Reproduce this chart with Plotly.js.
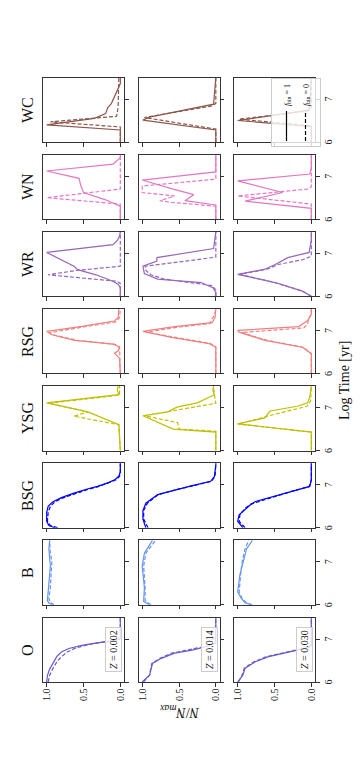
<!DOCTYPE html>
<html>
<head>
<meta charset="utf-8">
<script src="https://cdn.plot.ly/plotly-3.0.1.min.js"></script>
<style>
  html, body { margin: 0; padding: 0; width: 360px; height: 780px; overflow: hidden; background: #fff; }
  #chart { position: absolute; left: 0; top: 0; width: 780px; height: 360px;
           transform-origin: 0 0; transform: translateY(780px) rotate(-90deg); }
</style>
</head>
<body>
<div id="chart"></div>
<script>
// columns = stellar type, rows = metallicity
const types = ['O', 'B', 'BSG', 'YSG', 'RSG', 'WR', 'WN', 'WC'];
const metallicities = ['0.002', '0.014', '0.030'];
const typeColors = ['#6a5acd', '#6495ed', '#0000ff', '#bfbf00', '#f08080', '#9467bd', '#e377c2', '#8c564b'];
const binLabels = ['<i>f</i><sub>bin</sub> = 1', '<i>f</i><sub>bin</sub> = 0'];

// [log time, N/Nmax]. b1 = f_bin 1 (solid), b0 = f_bin 0 (dashed)
const O_002_b1 = [[6.0,1.0],[6.15,0.99],[6.3,0.96],[6.5,0.9],[6.6,0.86],[6.7,0.8],[6.78,0.7],[6.85,0.52],[6.9,0.36],[6.95,0.14],[6.98,0.04],[7.02,0],[7.5,0]];
const O_002_b0 = [[6.0,0.98],[6.15,0.96],[6.3,0.92],[6.5,0.85],[6.6,0.79],[6.7,0.72],[6.78,0.62],[6.85,0.48],[6.9,0.34],[6.95,0.12],[6.98,0.03],[7.02,0],[7.5,0]];
const O_014_b1 = [[6.0,1.0],[6.16,0.9],[6.43,0.86],[6.55,0.74],[6.67,0.56],[6.74,0.32],[6.82,0.14],[6.9,0],[7.5,0]];
const O_014_b0 = [[6.0,0.98],[6.16,0.9],[6.43,0.87],[6.55,0.76],[6.67,0.6],[6.74,0.38],[6.82,0.17],[6.9,0.01],[7.5,0]];
const O_030_b1 = [[6.0,1.0],[6.16,0.93],[6.32,0.9],[6.47,0.76],[6.59,0.58],[6.71,0.25],[6.8,0.04],[6.85,0],[7.5,0]];
const O_030_b0 = [[6.0,0.99],[6.16,0.94],[6.32,0.91],[6.47,0.78],[6.59,0.61],[6.71,0.28],[6.8,0.06],[6.86,0],[7.5,0]];

const B_002_b1 = [[6.0,0.92],[6.04,0.97],[6.1,0.99],[6.3,0.98],[6.6,0.96],[6.9,0.95],[7.1,0.96],[7.3,0.97],[7.5,0.96]];
const B_002_b0 = [[6.0,0.9],[6.05,0.95],[6.15,0.97],[6.4,0.95],[6.7,0.94],[7.0,0.93],[7.2,0.95],[7.5,0.96]];
const B_014_b1 = [[6.0,0.9],[6.08,0.98],[6.4,0.97],[6.9,1.0],[7.2,0.97],[7.5,0.86]];
const B_014_b0 = [[6.0,0.88],[6.1,0.96],[6.4,0.96],[6.9,0.98],[7.2,0.95],[7.5,0.82]];
const B_030_b1 = [[6.0,0.82],[6.05,0.9],[6.15,0.95],[6.3,1.0],[6.7,0.97],[7.0,0.93],[7.3,0.88],[7.5,0.8]];
const B_030_b0 = [[6.0,0.8],[6.05,0.88],[6.15,0.94],[6.3,0.98],[6.7,0.96],[7.0,0.94],[7.3,0.9],[7.5,0.85]];

const BSG_002_b1 = [[6.0,0.89],[6.05,0.97],[6.15,1.0],[6.35,1.0],[6.5,0.98],[6.6,0.92],[6.7,0.8],[6.8,0.64],[6.9,0.45],[6.96,0.31],[7.05,0.16],[7.12,0.07],[7.2,0.02],[7.3,0],[7.5,0]];
const BSG_002_b0 = [[6.0,0.85],[6.05,0.95],[6.15,0.99],[6.35,0.98],[6.5,0.95],[6.6,0.89],[6.7,0.77],[6.8,0.6],[6.9,0.42],[6.96,0.29],[7.05,0.14],[7.12,0.05],[7.2,0.01],[7.3,0],[7.5,0]];
const BSG_014_b1 = [[6.0,0.95],[6.2,0.99],[6.4,0.99],[6.57,0.95],[6.77,0.79],[6.88,0.56],[6.98,0.32],[7.08,0.07],[7.19,0.02],[7.45,0],[7.5,0]];
const BSG_014_b0 = [[6.0,0.92],[6.2,0.98],[6.4,0.98],[6.57,0.93],[6.77,0.78],[6.88,0.55],[6.98,0.3],[7.08,0.06],[7.19,0.01],[7.5,0]];
const BSG_030_b1 = [[6.0,0.93],[6.15,1.0],[6.3,0.98],[6.53,0.83],[6.61,0.76],[6.73,0.49],[6.85,0.25],[6.96,0.02],[7.12,0],[7.5,0]];
const BSG_030_b0 = [[6.0,0.9],[6.15,0.98],[6.3,0.97],[6.45,0.9],[6.55,0.82],[6.73,0.5],[6.85,0.26],[6.96,0.03],[7.1,0],[7.5,0]];

const YSG_002_b1 = [[6.0,0],[6.3,0.01],[6.6,0.02],[6.9,0.44],[7.11,1.0],[7.3,0.02],[7.4,0.04],[7.5,0.03]];
const YSG_002_b0 = [[6.0,0],[6.3,0.01],[6.6,0.02],[6.8,0.63],[6.9,0.44],[7.1,0.97],[7.29,0.01],[7.5,0.01]];
const YSG_014_b1 = [[6.0,0],[6.43,0],[6.5,0.58],[6.81,0.99],[6.9,0.65],[7.01,0.53],[7.11,0.25],[7.3,0.02],[7.4,0.04],[7.5,0.03]];
const YSG_014_b0 = [[6.0,0],[6.45,0],[6.5,0.5],[6.65,0.52],[6.81,0.97],[7.1,0],[7.3,0.02],[7.5,0.03]];
const YSG_030_b1 = [[6.0,0],[6.43,0],[6.62,1.0],[6.76,0.63],[6.92,0.56],[7.03,0.19],[7.11,0.05],[7.25,0.02],[7.5,0]];
const YSG_030_b0 = [[6.0,0],[6.43,0],[6.62,1.0],[6.7,0.8],[6.8,0.6],[7.03,0.06],[7.15,0.01],[7.5,0]];

const RSG_002_b1 = [[6.0,0],[6.35,0.01],[6.42,0.05],[6.47,0.08],[6.52,0.03],[6.62,0.01],[6.68,0.1],[6.77,0.62],[6.9,0.93],[6.98,1.0],[7.1,0.5],[7.22,0.08],[7.3,0.03],[7.5,0.02]];
const RSG_002_b0 = [[6.0,0],[6.6,0.01],[6.68,0.08],[6.77,0.58],[6.9,0.92],[6.95,0.96],[7.08,0.5],[7.2,0.06],[7.3,0.01],[7.5,0]];
const RSG_014_b1 = [[6.0,0],[6.61,0],[6.69,0.09],[6.84,0.6],[6.98,0.99],[7.09,0.56],[7.18,0.05],[7.3,0.01],[7.5,0]];
const RSG_014_b0 = [[6.0,0],[6.62,0],[6.7,0.08],[6.84,0.55],[6.96,0.95],[7.08,0.5],[7.16,0.08],[7.25,0.06],[7.35,0.02],[7.5,0]];
const RSG_030_b1 = [[6.0,0],[6.46,0],[6.61,0.12],[6.77,0.63],[6.96,0.98],[7.0,1.0],[7.09,0.17],[7.23,0.05],[7.38,0],[7.5,0]];
const RSG_030_b0 = [[6.0,0],[6.46,0],[6.61,0.11],[6.77,0.6],[6.95,0.95],[7.06,0.1],[7.15,0.05],[7.25,0.04],[7.38,0],[7.5,0]];

const WR_002_b1 = [[6.0,0],[6.2,0],[6.28,0.03],[6.35,0.1],[6.5,0.33],[6.62,0.58],[6.7,0.63],[6.85,0.8],[7.02,1.0],[7.2,0.1],[7.3,0.04],[7.4,0.01],[7.5,0]];
const WR_002_b0 = [[6.0,0],[6.3,0],[6.35,0.05],[6.5,0.98],[6.6,0.6],[6.7,0],[7.5,0]];
const WR_014_b1 = [[6.0,0],[6.09,0],[6.2,0.04],[6.32,0.2],[6.4,0.79],[6.53,0.97],[6.7,0.99],[6.82,0.8],[6.9,0.8],[7.02,0.32],[7.11,0.03],[7.5,0]];
const WR_014_b0 = [[6.0,0],[6.15,0],[6.25,0.05],[6.4,0.7],[6.5,0.88],[6.6,0.95],[6.7,0.96],[6.91,0],[7.5,0]];
const WR_030_b1 = [[6.0,0],[6.12,0.12],[6.32,0.49],[6.51,1.0],[6.63,0.63],[6.74,0.49],[6.9,0.32],[7.02,0.03],[7.3,0],[7.5,0]];
const WR_030_b0 = [[6.0,0],[6.12,0.12],[6.32,0.5],[6.51,0.97],[6.63,0.6],[6.74,0.45],[6.85,0.12],[6.93,0],[7.5,0]];

const WN_002_b1 = [[6.0,0],[6.3,0],[6.45,0.2],[6.62,0.5],[6.8,0.54],[6.95,0.56],[7.12,1.0],[7.28,0.1],[7.43,0],[7.5,0]];
const WN_002_b0 = [[6.0,0],[6.35,0],[6.5,1.0],[6.7,0],[7.5,0]];
const WN_014_b1 = [[6.0,0],[6.33,0],[6.43,0.42],[6.57,0.3],[6.7,0.58],[6.91,1.0],[7.1,0],[7.5,0]];
const WN_014_b0 = [[6.0,0],[6.3,0],[6.39,0.6],[6.43,0.76],[6.54,0.56],[6.62,1.0],[6.77,1.0],[6.93,0],[7.5,0]];
const WN_030_b1 = [[6.0,0],[6.25,0],[6.42,0.9],[6.62,0.39],[6.89,1.0],[7.05,0.02],[7.2,0],[7.5,0]];
const WN_030_b0 = [[6.0,0],[6.35,0],[6.54,1.0],[6.7,0.05],[6.75,0],[7.5,0]];

const WC_002_b1 = [[6.0,0],[6.28,0],[6.4,1.0],[6.55,0.35],[6.66,0.2],[6.8,0.17],[6.9,0.12],[7.05,0.08],[7.17,0.05],[7.36,0],[7.5,0]];
const WC_002_b0 = [[6.0,0],[6.35,0],[6.47,0.95],[6.6,0.05],[6.8,0.03],[7.5,0.02]];
const WC_014_b1 = [[6.0,0],[6.28,0],[6.51,0.99],[6.58,0.9],[6.88,0.03],[7.5,0]];
const WC_014_b0 = [[6.0,0],[6.3,0],[6.57,0.97],[6.84,0.05],[6.9,0],[7.5,0]];
const WC_030_b1 = [[6.0,0],[6.36,0],[6.5,1.0],[6.74,0.03],[7.5,0]];
const WC_030_b0 = [[6.0,0],[6.38,0],[6.53,0.98],[6.72,0.05],[6.8,0],[7.5,0]];

const curves = {
  O:   [[O_002_b1, O_002_b0], [O_014_b1, O_014_b0], [O_030_b1, O_030_b0]],
  B:   [[B_002_b1, B_002_b0], [B_014_b1, B_014_b0], [B_030_b1, B_030_b0]],
  BSG: [[BSG_002_b1, BSG_002_b0], [BSG_014_b1, BSG_014_b0], [BSG_030_b1, BSG_030_b0]],
  YSG: [[YSG_002_b1, YSG_002_b0], [YSG_014_b1, YSG_014_b0], [YSG_030_b1, YSG_030_b0]],
  RSG: [[RSG_002_b1, RSG_002_b0], [RSG_014_b1, RSG_014_b0], [RSG_030_b1, RSG_030_b0]],
  WR:  [[WR_002_b1, WR_002_b0], [WR_014_b1, WR_014_b0], [WR_030_b1, WR_030_b0]],
  WN:  [[WN_002_b1, WN_002_b0], [WN_014_b1, WN_014_b0], [WN_030_b1, WN_030_b0]],
  WC:  [[WC_002_b1, WC_002_b0], [WC_014_b1, WC_014_b0], [WC_030_b1, WC_030_b0]]
};

// figure is laid out unrotated (780 x 360) and turned by css
const W = 780, H = 360;
const colX0 = 98, colStep = 77.14, colW = 64.5;
const rowY0 = 43, rowStep = 95.5, rowH = 81;
const font = 'Liberation Serif, Times New Roman, serif';

const data = [];
const layout = {
  width: W, height: H,
  margin: { l: 0, r: 0, t: 0, b: 0 },
  paper_bgcolor: '#fff', plot_bgcolor: '#fff',
  font: { family: font, size: 10, color: '#111' },
  showlegend: true,
  legend: {
    x: 702 / W, y: 1 - 271 / H, xanchor: 'right', yanchor: 'top',
    bgcolor: 'rgba(255,255,255,0.8)', bordercolor: '#ccc', borderwidth: 1,
    font: { size: 8 }, itemwidth: 30, tracegroupgap: 0
  },
  annotations: []
};

metallicities.forEach((z, r) => {
  types.forEach((t, c) => {
    const k = r * types.length + c + 1;
    const sfx = k === 1 ? '' : String(k);
    const x0 = colX0 + c * colStep, y0 = rowY0 + r * rowStep;
    const axBase = {
      showline: true, mirror: true, linecolor: '#333', linewidth: 1,
      ticks: 'outside', ticklen: 3.5, tickcolor: '#333', tickwidth: 1,
      showgrid: false, zeroline: false, fixedrange: true
    };
    layout['xaxis' + sfx] = Object.assign({}, axBase, {
      domain: [x0 / W, (x0 + colW) / W], anchor: 'y' + sfx,
      range: [6, 7.5], tickvals: [6, 7], ticktext: ['6', '7'],
      showticklabels: r === metallicities.length - 1
    });
    layout['yaxis' + sfx] = Object.assign({}, axBase, {
      domain: [1 - (y0 + rowH) / H, 1 - y0 / H], anchor: 'x' + sfx,
      range: [-0.05, 1.05], tickvals: [0, 0.5, 1], ticktext: ['0.0', '0.5', '1.0'],
      showticklabels: c === 0
    });
    curves[t][r].forEach((pts, j) => {
      data.push({
        type: 'scatter', mode: 'lines',
        x: pts.map(p => p[0]), y: pts.map(p => p[1]),
        xaxis: 'x' + sfx, yaxis: 'y' + sfx,
        line: { color: typeColors[c], width: 1.2, dash: j === 0 ? 'solid' : '4px,2px' },
        showlegend: false, hoverinfo: 'skip'
      });
    });
    if (r === 0) {
      layout.annotations.push({
        xref: 'paper', yref: 'paper', x: (x0 + colW / 2) / W, y: 1 - 38 / H,
        xanchor: 'center', yanchor: 'bottom', showarrow: false,
        text: t, font: { size: 16 }
      });
    }
    if (c === 0) {
      layout.annotations.push({
        xref: 'paper', yref: 'paper', x: (x0 + 55) / W, y: 1 - (y0 + 79) / H,
        xanchor: 'right', yanchor: 'bottom', showarrow: false,
        text: '<i>Z</i> = ' + z, font: { size: 10 },
        bgcolor: 'rgba(255,255,255,0.8)', bordercolor: '#ccc', borderwidth: 1, borderpad: 2
      });
    }
  });
});

// legend keys (black) on the last panel
binLabels.forEach((lbl, j) => {
  data.push({
    type: 'scatter', mode: 'lines', x: [null], y: [null],
    xaxis: 'x24', yaxis: 'y24', name: lbl,
    line: { color: '#000', width: 1.2, dash: j === 0 ? 'solid' : '4px,2px' }
  });
});

layout.annotations.push({
  xref: 'paper', yref: 'paper', x: 400 / W, y: 1 - 335 / H,
  xanchor: 'center', yanchor: 'top', showarrow: false,
  text: 'Log Time [yr]', font: { size: 14 }
});
layout.annotations.push({
  xref: 'paper', yref: 'paper', x: 68 / W, y: 1 - 180 / H,
  xanchor: 'center', yanchor: 'middle', showarrow: false, textangle: -90,
  text: '<i>N</i>/<i>N</i><sub><i>max</i></sub>', font: { size: 14 }
});

Plotly.newPlot('chart', data, layout, { staticPlot: true, displayModeBar: false });
</script>
</body>
</html>
